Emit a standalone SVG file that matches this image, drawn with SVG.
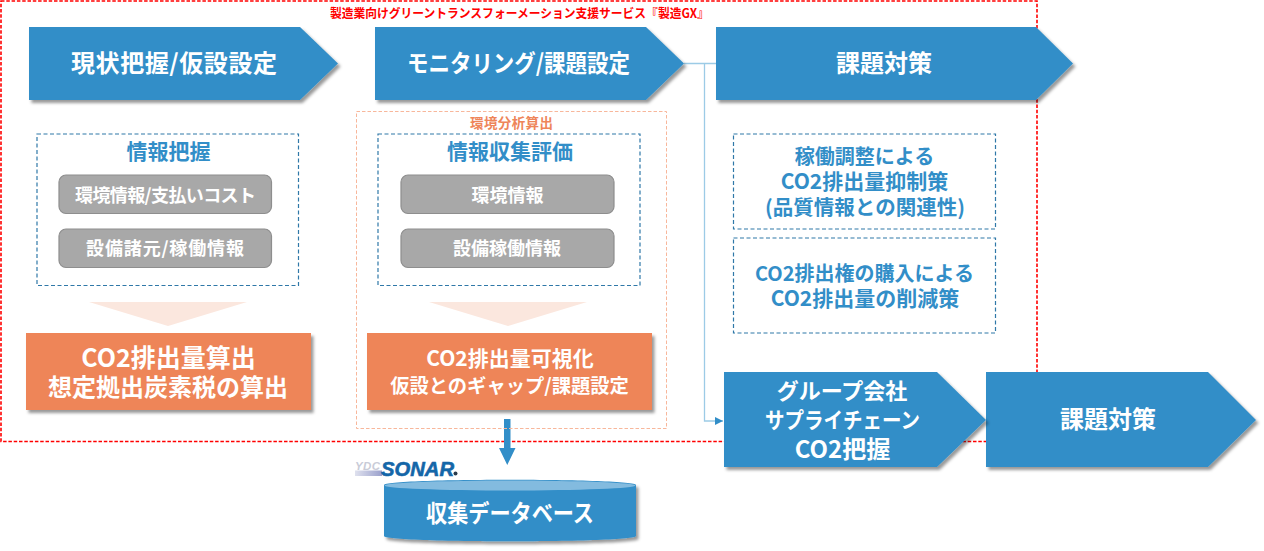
<svg xmlns="http://www.w3.org/2000/svg" width="1264" height="551" viewBox="0 0 1264 551">
<style>
text{font-family:"Noto Sans CJK JP","Noto Sans",sans-serif;font-weight:700;text-anchor:middle}
.blue{fill:#328ec8;filter:url(#sh)}
.org{fill:#ee8559;filter:url(#sh)}
.gray{fill:#a8a8a8;stroke:#8e8e8e;stroke-width:1.2}
.dash{fill:#fff;stroke:#2f78a8;stroke-width:1.2;stroke-dasharray:4 2.5}
.w{fill:#fff}
.t24{font-size:24px}.t25{font-size:25px}.t22{font-size:22px}.t21{font-size:21px}.t20{font-size:20px}.t18{font-size:18px}
.b{fill:#328ec8}
.tri{fill:#fbe7de}
</style>
<defs>
<filter id="sh" x="-5%" y="-10%" width="112%" height="125%"><feDropShadow dx="2.5" dy="3" stdDeviation="1.8" flood-color="#000" flood-opacity="0.4"/></filter>
<linearGradient id="lg" x1="0" x2="1" y1="0" y2="0"><stop offset="0" stop-color="#dfe1ee"/><stop offset="1" stop-color="#9aa0cc"/></linearGradient>
<marker id="ah" markerWidth="9" markerHeight="8" refX="8" refY="4" orient="auto" markerUnits="userSpaceOnUse"><path d="M0 0L8 4L0 8Z" fill="#328ec8"/></marker>
</defs>
<g id="frame"><rect x="1" y="1" width="1036" height="440.500" fill="none" stroke="#f00" stroke-width="1.600" stroke-dasharray="3.500 1.800"/>
<text x="519.5" y="18" font-size="12.5" fill="#f00" textLength="379" lengthAdjust="spacingAndGlyphs">製造業向けグリーントランスフォーメーション支援サービス『製造GX』</text></g>
<g id="connectors">
<path d="M684 63.500H716M704.500 63.500V421H723" fill="none" stroke="#9ccbe6" stroke-width="1.300" marker-end="url(#ah)"/>
<path d="M504 419H510.500V448H515.500L507.250 465L499 448H504Z" fill="#328ec8"/>
</g>
<g id="n1"><path class="blue" d="M29 27H300L338 63.500L300 100H29Z"/><text class="w t24" x="174" y="72" textLength="206">現状把握/仮設設定</text></g>
<g id="n2"><path class="blue" d="M375 27H646L684 63.500L646 100H375Z"/><text class="w t24" x="518.500" y="72" textLength="223" lengthAdjust="spacingAndGlyphs">モニタリング/課題設定</text></g>
<g id="n3"><path class="blue" d="M716 27H1036L1073 63.500L1036 100H716Z"/><text class="w t24" x="884" y="72">課題対策</text></g>
<g id="env"><rect x="356.500" y="111.500" width="310" height="317" fill="none" stroke="#f8b79b" stroke-width="1" stroke-dasharray="3.500 2"/>
<text x="511.500" y="128" font-size="13.500" fill="#ee8559" textLength="83">環境分析算出</text></g>
<g id="info1"><rect class="dash" x="37" y="134" width="261.500" height="151.500"/><text class="t21 b" x="168.500" y="159">情報把握</text>
<rect class="gray" x="59" y="175" width="212.500" height="38.500" rx="7"/><text class="w t18" x="165.500" y="201.500" textLength="181">環境情報/支払いコスト</text>
<rect class="gray" x="59" y="229" width="212.500" height="38.500" rx="7"/><text class="w t18" x="165" y="254.500" textLength="158">設備諸元/稼働情報</text></g>
<g id="info2"><rect class="dash" x="378" y="134" width="262" height="151.500"/><text class="t21 b" x="510" y="159">情報収集評価</text>
<rect class="gray" x="401" y="175" width="213" height="38.500" rx="7"/><text class="w t18" x="507.500" y="201.500">環境情報</text>
<rect class="gray" x="401" y="229" width="213" height="38.500" rx="7"/><text class="w t18" x="507" y="254.500">設備稼働情報</text></g>
<path class="tri" d="M89 302H247L168 326Z"/>
<path class="tri" d="M429 302H587L508 326Z"/>
<g id="o1"><rect class="org" x="26" y="333" width="285" height="77"/><text class="w"><tspan class="t25" x="168.500" y="367">CO2排出量算出</tspan><tspan class="t24" x="168" y="396">想定拠出炭素税の算出</tspan></text></g>
<g id="o2"><rect class="org" x="367" y="333" width="285" height="77"/><text class="w"><tspan class="t21" x="510" y="366">CO2排出量可視化</tspan><tspan font-size="19.300" x="509.500" y="392.500">仮設とのギャップ/課題設定</tspan></text></g>
<g id="m1"><rect class="dash" x="733.500" y="134" width="262" height="95"/><text class="t20 b"><tspan x="864.500" y="164">稼働調整による</tspan><tspan font-size="21" x="864.500" y="189">CO2排出量抑制策</tspan><tspan font-size="20.500" x="865" y="215">(品質情報との関連性)</tspan></text></g>
<g id="m2"><rect class="dash" x="733.500" y="238" width="262" height="95"/><text class="b t20"><tspan x="864.500" y="281">CO2排出権の購入による</tspan><tspan font-size="21" x="865" y="306">CO2排出量の削減策</tspan></text></g>
<g id="n5"><path class="blue" d="M986 372H1208L1256 420L1208 467H986Z"/><text class="w t24" x="1108" y="428">課題対策</text></g>
<g id="n4"><path class="blue" d="M724 372H937L986 420L937 467H724Z"/><text class="w t22"><tspan x="842" y="399">グループ会社</tspan><tspan x="842.500" y="428" textLength="155" lengthAdjust="spacingAndGlyphs">サプライチェーン</tspan><tspan font-size="24" x="842.500" y="458">CO2把握</tspan></text></g>
<g id="logo"><text x="367.500" y="469.500" font-size="11.500" fill="#c9ccd8" font-style="italic" textLength="25" style="font-family:'Liberation Sans',sans-serif">YDC</text><rect x="355" y="470.500" width="27" height="5.500" fill="url(#lg)"/>
<text x="417.500" y="475.500" font-size="21" fill="#1466a8" stroke="#1466a8" stroke-width=".6" font-style="italic" textLength="73" lengthAdjust="spacingAndGlyphs" style="font-family:'Liberation Sans',sans-serif">SONAR</text><circle cx="455.500" cy="473.500" r="2" fill="#2a3a4a"/></g>
<g id="db"><path class="blue" d="M384 485C384 478 636 478 636 485V536C636 543 384 543 384 536Z"/><ellipse cx="510" cy="485.500" rx="125.500" ry="5" fill="#83bbdf"/><text class="w t24" x="510" y="522" textLength="168" lengthAdjust="spacingAndGlyphs">収集データベース</text></g>
</svg>
